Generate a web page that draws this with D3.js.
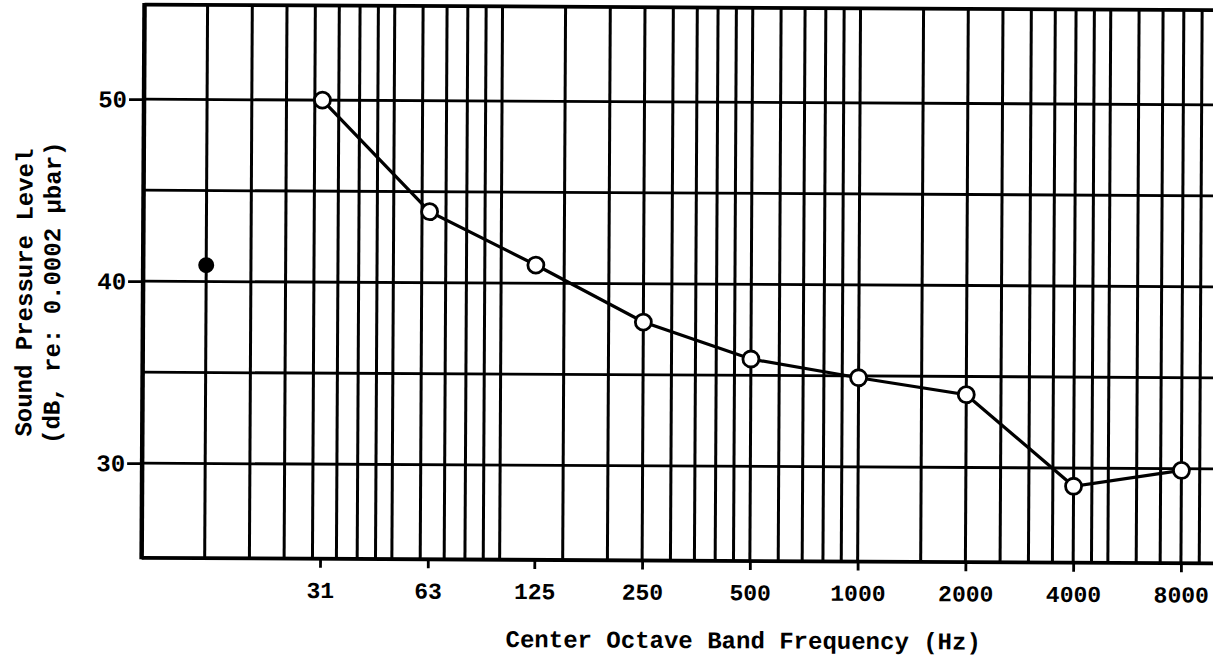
<!DOCTYPE html>
<html>
<head>
<meta charset="utf-8">
<script src="https://cdn.jsdelivr.net/npm/d3@7"></script>
<style>
  body { margin: 0; background: #fff; }
  text { font-family: "Liberation Mono", "DejaVu Sans Mono", monospace; fill: #000; }
</style>
</head>
<body>
<svg id="chart" width="1213" height="661"></svg>
<script>
// octave band centres (Hz) and measured levels (dB)
var bands = [31.5, 63, 125, 250, 500, 1000, 2000, 4000, 8000];
var bandLabels = ["31", "63", "125", "250", "500", "1000", "2000", "4000", "8000"];
var spl = [50.0, 43.9, 41.0, 37.9, 35.9, 34.9, 34.0, 29.0, 29.9];

// lone filled point at the left
var overallFreq = [15];
var overallLevel = [40.9];

var yTicks = [30, 40, 50];
var yGrid = [30, 35, 40, 45, 50];
var decades = [10, 100, 1000];
var gridSteps = [1, 1.5, 2, 2.5, 3, 3.5, 4, 4.5, 5, 6, 7, 8, 9];

var svg = d3.select("#chart");
// the scanned sheet sits a little crooked
var g = svg.append("g").attr("transform", "rotate(0.3 680 300)");

var x = d3.scaleLog().domain([10, 10000]).range([143, 1217]);
var y = d3.scaleLinear().domain([30, 50]).range([466, 102]);
var yTop = y(55.2), yBot = y(24.8);

// vertical log-paper lines
var vlines = [];
decades.forEach(function(d) { gridSteps.forEach(function(s) { vlines.push(s * d); }); });

g.selectAll("line.v").data(vlines).enter().append("line")
  .attr("class", "v")
  .attr("x1", x).attr("x2", x)
  .attr("y1", yTop).attr("y2", yBot)
  .style("stroke", "#000").style("stroke-width", 3);

// horizontal lines
g.selectAll("line.h").data(yGrid).enter().append("line")
  .attr("class", "h")
  .attr("x1", x(10)).attr("x2", x(10000))
  .attr("y1", y).attr("y2", y)
  .style("stroke", "#000").style("stroke-width", 2.8);

// frame: top, bottom, left
g.append("line").attr("x1", x(10)).attr("x2", x(10000)).attr("y1", yTop).attr("y2", yTop)
  .style("stroke", "#000").style("stroke-width", 3.8);
g.append("line").attr("x1", x(10)).attr("x2", x(10000)).attr("y1", yBot).attr("y2", yBot)
  .style("stroke", "#000").style("stroke-width", 3.8);
g.append("line").attr("x1", x(10)).attr("x2", x(10)).attr("y1", yTop - 1.5).attr("y2", yBot + 1.5)
  .style("stroke", "#000").style("stroke-width", 4.5);

// x axis ticks + labels
var xAxis = d3.axisBottom(x).tickValues(bands).tickSize(9).tickPadding(14)
  .tickFormat(function(d, i) { return bandLabels[i]; });
var xa = g.append("g").attr("transform", "translate(0," + yBot + ")").call(xAxis);
xa.select(".domain").remove();
xa.selectAll(".tick line").style("stroke", "#000").style("stroke-width", 2.8);
xa.selectAll(".tick text").style("font-size", "23px").style("font-weight", "bold")
  .style("font-family", "'Liberation Mono', monospace").attr("fill", "#000");

// y axis ticks + labels
var yAxis = d3.axisLeft(y).tickValues(yTicks).tickSize(15).tickPadding(2);
var ya = g.append("g").attr("transform", "translate(" + x(10) + ",0)").call(yAxis);
ya.select(".domain").remove();
ya.selectAll(".tick line").style("stroke", "#000").style("stroke-width", 2.8);
ya.selectAll(".tick text").style("font-size", "24px").style("font-weight", "bold")
  .style("font-family", "'Liberation Mono', monospace").attr("fill", "#000");

// axis titles
g.append("text")
  .attr("x", 745).attr("y", 648)
  .attr("text-anchor", "middle")
  .style("font-size", "24px").style("font-weight", "bold")
  .text("Center Octave Band Frequency (Hz)");

var yt = g.append("text")
  .attr("transform", "translate(0,296) rotate(-90)")
  .attr("text-anchor", "middle")
  .style("font-size", "24px").style("font-weight", "bold");
yt.append("tspan").attr("x", 0).attr("y", 32).text("Sound Pressure Level");
yt.append("tspan").attr("x", 0).attr("y", 60).text("(dB, re: 0.0002 \u00b5bar)");

// data line
var line = d3.line()
  .x(function(d, i) { return x(bands[i]); })
  .y(function(d) { return y(d); });

g.append("path").datum(spl)
  .attr("d", line)
  .style("fill", "none").style("stroke", "#000").style("stroke-width", 3.2);

g.selectAll("circle.pt").data(spl).enter().append("circle")
  .attr("class", "pt")
  .attr("cx", function(d, i) { return x(bands[i]); })
  .attr("cy", y)
  .attr("r", 8)
  .style("fill", "#fff").style("stroke", "#000").style("stroke-width", 2.8);

g.selectAll("circle.overall").data(overallLevel).enter().append("circle")
  .attr("class", "overall")
  .attr("cx", function(d, i) { return x(overallFreq[i]); })
  .attr("cy", y)
  .attr("r", 8)
  .style("fill", "#000");
</script>
</body>
</html>
